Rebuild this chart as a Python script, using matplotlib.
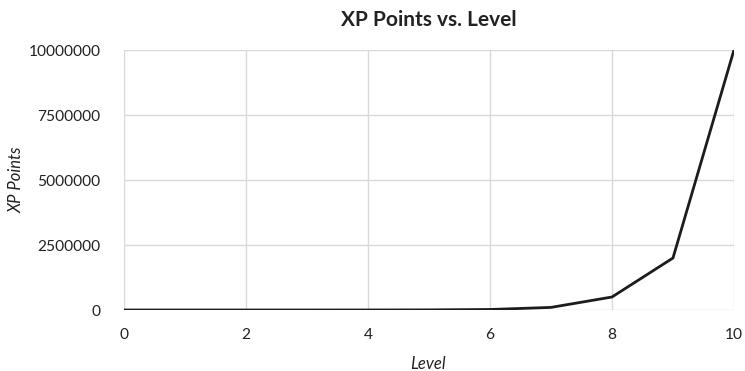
import matplotlib
matplotlib.use("Agg")
import matplotlib.pyplot as plt

levels = [0, 1, 2, 3, 4, 5, 6, 7, 8, 9, 10]
xp_points = [0, 10, 50, 200, 1000, 5000, 20000, 100000, 500000, 2000000, 10000000]
x_ticks = [0, 2, 4, 6, 8, 10]
y_ticks = [0, 2500000, 5000000, 7500000, 10000000]

plt.rcParams['font.family'] = ['Lato', 'DejaVu Sans']

W, H = 745, 371
fig = plt.figure(figsize=(W / 100, H / 100), dpi=100)
ax = fig.add_axes([0.1664, 0.1644, 0.8188, 0.7008])

ax.plot(levels, xp_points, color='#1c1c1c', linewidth=2.0, solid_joinstyle='miter', zorder=3)

ax.set_xlim(0, 10)
ax.set_ylim(0, 10000000)
ax.set_xticks(x_ticks)
ax.set_yticks(y_ticks)
ax.set_xticklabels([str(t) for t in x_ticks])
ax.set_yticklabels([str(t) for t in y_ticks])

ax.grid(True, color='#d9d9d9', linewidth=1.0)
ax.set_axisbelow(True)
for s in ax.spines.values():
    s.set_visible(False)
ax.tick_params(length=0, labelsize=11.2, colors='#222222')
ax.tick_params(axis='x', pad=13)
ax.tick_params(axis='y', pad=17)

fig.text(429 / W, 1 - 20 / H, 'XP Points vs. Level', fontsize=15, fontweight='bold',
         color='#222222', ha='center', va='center')
fig.text(428 / W, 1 - 364 / H, 'Level', fontsize=12, style='italic',
         color='#222222', ha='center', va='center')
fig.text(17 / W, 1 - 180 / H, 'XP Points', fontsize=12, style='italic',
         color='#222222', ha='center', va='center', rotation=90)

fig.savefig('out.png', dpi=100)
